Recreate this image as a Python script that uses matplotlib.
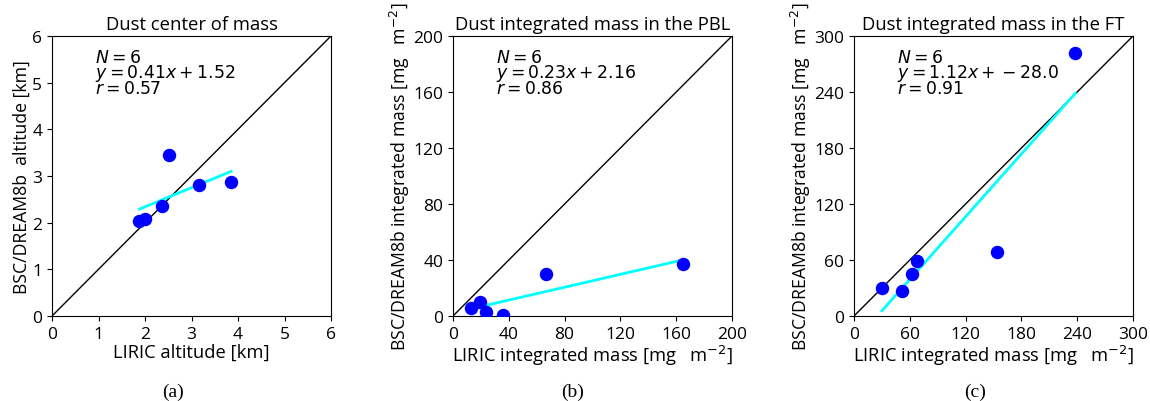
import numpy as np
import matplotlib.pyplot as plt

plt.rcParams['font.family'] = ['Open Sans', 'DejaVu Sans']
plt.rcParams['mathtext.fontset'] = 'dejavusans'
plt.rcParams['font.size'] = 12.5

# panel (a): centre of mass altitude [km]
lidar_com = [1.88, 2.0, 2.37, 2.52, 3.17, 3.85]
model_com = [2.04, 2.08, 2.36, 3.44, 2.80, 2.88]
fit_com = (0.41, 1.52, 0.57)

# panel (b): integrated mass in the PBL [mg m-2]
lidar_pbl = [13, 19, 24, 36, 67, 165]
model_pbl = [6, 10, 3, 1, 30, 37]
fit_pbl = (0.23, 2.16, 0.86)

# panel (c): integrated mass in the FT [mg m-2]
lidar_ft = [30, 52, 62, 68, 154, 238]
model_ft = [30, 27, 45, 59, 69, 282]
fit_ft = (1.12, -28.0, 0.91)

panels = [
    ('Dust center of mass', lidar_com, model_com, fit_com, 6, np.arange(0, 7, 1),
     'LIRIC altitude [km]', 'BSC/DREAM8b  altitude [km]',
     '$y = {:.2f}x + {:.2f}$', '(a)'),
    ('Dust integrated mass in the PBL', lidar_pbl, model_pbl, fit_pbl, 200, np.arange(0, 201, 40),
     'LIRIC integrated mass [mg   m$^{-2}$]', 'BSC/DREAM8b integrated mass [mg   m$^{-2}$]',
     '$y = {:.2f}x + {:.2f}$', '(b)'),
    ('Dust integrated mass in the FT', lidar_ft, model_ft, fit_ft, 300, np.arange(0, 301, 60),
     'LIRIC integrated mass [mg   m$^{-2}$]', 'BSC/DREAM8b integrated mass [mg   m$^{-2}$]',
     '$y = {:.2f}x + -{:.1f}$', '(c)'),
]

fig = plt.figure(figsize=(11.5, 4.02), dpi=100)
lefts = [52, 453, 854]
caption_x = [173, 573, 975]

for i, (title, x, y, fit, top, ticks, xl, yl, eq, cap) in enumerate(panels):
    ax = fig.add_axes([lefts[i] / 1150, 85 / 402, 279 / 1150, 280 / 402])
    m, b, r = fit
    ax.plot([0, top], [0, top], color='black', lw=1)
    xs = np.array([min(x), max(x)])
    ax.plot(xs, m * xs + b, color='cyan', lw=2)
    ax.scatter(x, y, s=75, color='blue', zorder=3)
    ax.set_xlim(0, top)
    ax.set_ylim(0, top)
    ax.set_xticks(ticks)
    ax.set_yticks(ticks)
    ax.set_title(title, pad=5, fontsize=13.3)
    ax.set_xlabel(xl, labelpad=1, fontsize=13.2)
    ax.set_ylabel(yl, labelpad=1, fontsize=12.7)
    if b < 0:
        eq_txt = eq.format(m, abs(b))
    else:
        eq_txt = eq.format(m, b)
    txt = '$N = 6$\n' + eq_txt + '\n$r = {:.2f}$'.format(r)
    ax.text(0.155, 0.955, txt, transform=ax.transAxes, va='top', ha='left',
            fontsize=12.4, linespacing=0.78)
    fig.text(caption_x[i] / 1150, 1 - 392 / 402, cap, ha='center', va='center',
             family='Liberation Serif', fontsize=14)

fig.savefig('out.png', dpi=100)
